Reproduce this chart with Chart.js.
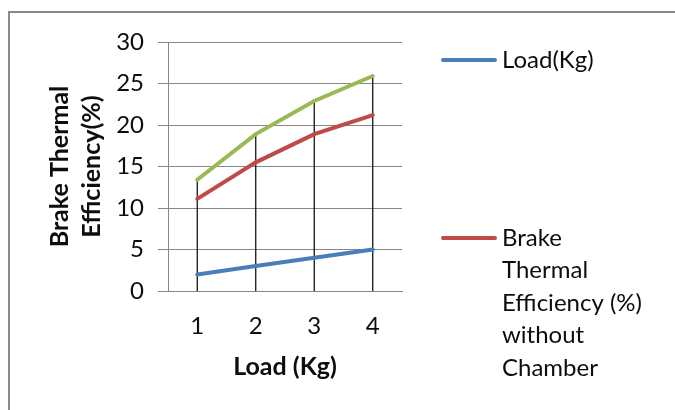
<!DOCTYPE html>
<html>
<head>
<meta charset="utf-8">
<script src="https://cdn.jsdelivr.net/npm/chart.js@4"></script>
<style>
  html, body { margin: 0; padding: 0; background: #fff; }
  #wrap { width: 675px; height: 410px; position: relative; }
</style>
</head>
<body>
<div id="wrap"><canvas id="chart" width="675" height="410"></canvas></div>
<script>
// values
const loads = ['1', '2', '3', '4'];
const loadKg = [2, 3, 4, 5];
const bteWithout = [11.1, 15.5, 18.9, 21.2];
const bteWith = [13.4, 18.9, 22.9, 25.9];
const yMin = 0, yMax = 30, yStep = 5;

const FONT = 'Lato, "Noto Sans", sans-serif';
const TEXT = '#0d0d0d';
const GRID = '#868686';

// outer frame (only top and left edges are visible in the original)
const framePlugin = {
  id: 'frame',
  beforeDraw(chart) {
    const ctx = chart.ctx;
    ctx.save();
    ctx.strokeStyle = '#8a8a8a';
    ctx.lineWidth = 2;
    ctx.beginPath();
    ctx.moveTo(9, chart.height);
    ctx.lineTo(9, 12);
    ctx.lineTo(chart.width, 12);
    ctx.stroke();
    ctx.restore();
  }
};

// excel style drop lines from the highest point down to the x axis
const dropLines = {
  id: 'dropLines',
  beforeDatasetsDraw(chart) {
    const ctx = chart.ctx;
    const y0 = chart.scales.y.getPixelForValue(0);
    const metas = chart.getSortedVisibleDatasetMetas();
    ctx.save();
    ctx.strokeStyle = '#000';
    ctx.lineWidth = 1.2;
    loads.forEach((_, i) => {
      let top = y0;
      metas.forEach(m => { top = Math.min(top, m.data[i].y); });
      const x = chart.scales.x.getPixelForValue(i);
      ctx.beginPath();
      ctx.moveTo(x, top);
      ctx.lineTo(x, y0);
      ctx.stroke();
    });
    ctx.restore();
  }
};

// legend on the right, laid out like the excel one
const sideLegend = {
  id: 'sideLegend',
  afterDraw(chart) {
    const ctx = chart.ctx;
    ctx.save();
    ctx.font = '24px ' + FONT;
    ctx.fillStyle = TEXT;
    ctx.textBaseline = 'middle';
    chart.data.datasets.forEach(ds => {
      if (!ds.legendLines) return;
      const y = ds.legendY;
      ctx.strokeStyle = ds.borderColor;
      ctx.lineWidth = 4;
      ctx.lineCap = 'round';
      ctx.beginPath();
      ctx.moveTo(443, y);
      ctx.lineTo(495, y);
      ctx.stroke();
      ds.legendLines.forEach((t, k) => ctx.fillText(t, 502, y + k * 32.5));
    });
    ctx.restore();
  }
};

new Chart(document.getElementById('chart'), {
  type: 'line',
  data: {
    labels: loads,
    datasets: [
      {
        label: 'Load(Kg)',
        data: loadKg,
        borderColor: '#4a7ebb',
        legendLines: ['Load(Kg)'],
        legendY: 60
      },
      {
        label: 'Brake Thermal Efficiency (%) without Chamber',
        data: bteWithout,
        borderColor: '#be4b48',
        legendLines: ['Brake', 'Thermal', 'Efficiency (%)', 'without', 'Chamber'],
        legendY: 238
      },
      {
        label: 'Brake Thermal Efficiency (%) with Chamber',
        data: bteWith,
        borderColor: '#98b954'
      }
    ]
  },
  options: {
    responsive: false,
    animation: false,
    devicePixelRatio: 1,
    layout: { padding: { left: 0, top: 42, right: 273, bottom: 0 } },
    elements: {
      line: { borderWidth: 4, tension: 0, fill: false, borderCapStyle: 'round' },
      point: { radius: 0, hoverRadius: 0 }
    },
    plugins: {
      legend: { display: false },
      tooltip: { enabled: false }
    },
    scales: {
      x: {
        offset: true,
        grid: { display: false },
        border: { display: true, color: GRID, width: 1 },
        ticks: { color: TEXT, font: { family: FONT, size: 24 }, padding: 13 },
        title: {
          display: true,
          text: 'Load (Kg)',
          color: TEXT,
          font: { family: FONT, size: 25, weight: 'bold', lineHeight: 1.2 },
          padding: { top: 0, bottom: 28 }
        },
        afterFit(s) { s.height = 119; }
      },
      y: {
        min: yMin,
        max: yMax,
        ticks: { stepSize: yStep, color: TEXT, font: { family: FONT, size: 24 }, padding: 14 },
        grid: { color: GRID, lineWidth: 1, tickLength: 10 },
        border: { display: true, color: GRID, width: 1 },
        title: {
          display: true,
          text: ['Brake Thermal', 'Efficiency(%)'],
          color: TEXT,
          font: { family: FONT, size: 25, weight: 'bold', lineHeight: '32px' },
          padding: { top: 44, bottom: 0 }
        },
        afterFit(s) { s.width = 168; }
      }
    }
  },
  plugins: [framePlugin, dropLines, sideLegend]
});
</script>
</body>
</html>
